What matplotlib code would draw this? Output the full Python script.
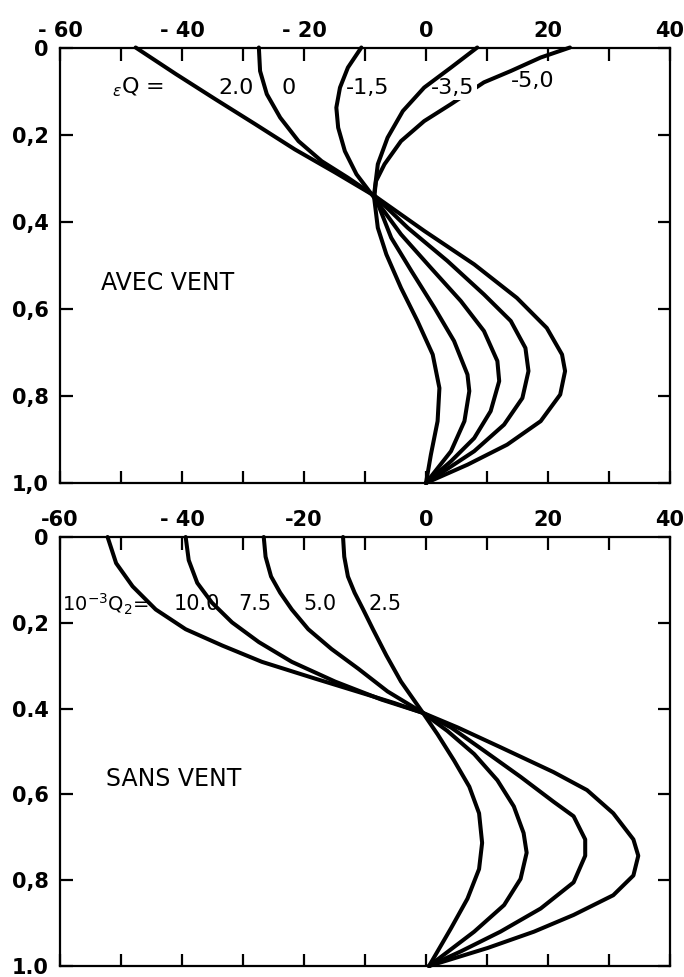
import matplotlib
matplotlib.use("Agg")
import matplotlib.pyplot as plt

# ---------------- data : AVEC VENT (top panel) ----------------
top_labels = ["2.0", "0", "-1,5", "-3,5", "-5,0"]

avec_20_x = [-47.6, -41.0, -34.5, -28.0, -21.5, -14.9, -8.4, -0.3, 7.9, 14.9, 19.8, 22.3, 22.8, 22.0, 18.8, 13.3, 6.8, 0.0]
avec_20_y = [0.0, 0.061, 0.119, 0.176, 0.234, 0.287, 0.341, 0.421, 0.498, 0.575, 0.644, 0.705, 0.743, 0.797, 0.858, 0.912, 0.958, 1.0]

avec_00_x = [-27.4, -27.2, -26.1, -23.9, -20.9, -17.1, -12.8, -8.4, -3.0, 3.5, 9.5, 13.9, 16.3, 16.8, 15.8, 12.8, 7.9, 0.0]
avec_00_y = [0.0, 0.054, 0.107, 0.161, 0.215, 0.261, 0.299, 0.341, 0.414, 0.490, 0.567, 0.628, 0.690, 0.743, 0.805, 0.866, 0.927, 1.0]

avec_m15_x = [-10.6, -12.8, -14.1, -14.7, -14.4, -13.3, -11.4, -8.7, -4.1, 0.8, 5.7, 9.5, 11.7, 12.0, 10.6, 7.9, 4.1, 0.0]
avec_m15_y = [0.0, 0.046, 0.092, 0.138, 0.184, 0.238, 0.291, 0.341, 0.429, 0.506, 0.582, 0.651, 0.720, 0.766, 0.835, 0.897, 0.950, 1.0]

avec_m35_x = [8.4, 4.1, -0.3, -3.8, -6.3, -7.9, -8.5, -5.7, -2.4, 1.4, 4.6, 6.8, 7.1, 6.3, 4.1, 0.0]
avec_m35_y = [0.0, 0.046, 0.092, 0.146, 0.207, 0.268, 0.337, 0.437, 0.513, 0.598, 0.674, 0.751, 0.789, 0.858, 0.927, 1.0]

avec_m50_x = [23.6, 18.8, 13.9, 9.5, 4.1, -0.3, -4.1, -6.8, -8.2, -8.5, -7.9, -6.5, -4.1, -1.4, 1.1, 2.2, 1.9, 0.8, 0.0]
avec_m50_y = [0.0, 0.023, 0.054, 0.080, 0.130, 0.169, 0.215, 0.268, 0.307, 0.345, 0.414, 0.475, 0.552, 0.628, 0.705, 0.782, 0.858, 0.935, 1.0]

# ---------------- data : SANS VENT (bottom panel) ----------------
bottom_labels = ["10.0", "7.5", "5.0", "2.5"]

sans_100_x = [-52.2, -50.8, -48.1, -44.3, -39.4, -33.4, -26.9, -18.2, -9.5, -5.2, -0.5, 5.2, 12.2, 20.9, 26.4, 30.7, 34.0, 34.8, 34.0, 30.7, 24.2, 17.7, 10.1, 0.5]
sans_100_y = [0.0, 0.061, 0.115, 0.169, 0.215, 0.253, 0.291, 0.330, 0.368, 0.387, 0.410, 0.444, 0.490, 0.548, 0.590, 0.644, 0.705, 0.743, 0.789, 0.835, 0.881, 0.920, 0.958, 1.0]

sans_75_x = [-39.4, -38.9, -37.5, -35.1, -31.8, -27.4, -22.0, -14.9, -7.3, -0.5, 4.1, 9.5, 15.5, 20.9, 24.2, 26.1, 26.1, 24.2, 18.8, 12.2, 5.7, 0.5]
sans_75_y = [0.0, 0.054, 0.107, 0.153, 0.199, 0.245, 0.291, 0.337, 0.379, 0.410, 0.444, 0.498, 0.559, 0.617, 0.651, 0.705, 0.743, 0.805, 0.866, 0.920, 0.966, 1.0]

sans_50_x = [-26.6, -26.3, -25.4, -23.9, -22.0, -19.3, -15.5, -11.1, -6.3, -0.5, 3.5, 7.9, 11.7, 14.4, 16.0, 16.5, 15.5, 12.8, 7.9, 0.5]
sans_50_y = [0.0, 0.046, 0.092, 0.130, 0.169, 0.215, 0.261, 0.307, 0.360, 0.410, 0.452, 0.506, 0.567, 0.628, 0.690, 0.736, 0.797, 0.858, 0.920, 1.0]

sans_25_x = [-13.6, -13.4, -12.8, -11.7, -10.3, -8.7, -6.5, -4.1, -0.5, 1.9, 4.6, 7.1, 8.7, 9.2, 8.7, 6.8, 4.1, 0.5]
sans_25_y = [0.0, 0.046, 0.092, 0.130, 0.169, 0.215, 0.276, 0.337, 0.410, 0.460, 0.521, 0.582, 0.644, 0.713, 0.774, 0.843, 0.912, 1.0]

x_ticks = [-60, -50, -40, -30, -20, -10, 0, 10, 20, 30, 40]
top_xlabels = ["- 60", "", "- 40", "", "- 20", "", "0", "", "20", "", "40"]
bot_xlabels = ["-60", "", "- 40", "", "-20", "", "0", "", "20", "", "40"]
y_ticks = [0, 0.2, 0.4, 0.6, 0.8, 1.0]
top_ylabels = ["0", "0,2", "0,4", "0,6", "0,8", "1,0"]
bot_ylabels = ["0", "0,2", "0.4", "0,6", "0,8", "1.0"]

# ---------------- figure ----------------
W, H = 684, 977
fig = plt.figure(figsize=(W / 100, H / 100), dpi=100)
fig.patch.set_facecolor("white")

L = 60 / W
AW = 610 / W
ax1 = fig.add_axes([L, 1 - 483 / H, AW, (483 - 47.5) / H])
ax2 = fig.add_axes([L, 1 - 966 / H, AW, (966 - 537) / H])

LW = 2.9
TICKFS = 15


def style(ax, xlabels, ylabels, xpad):
    ax.set_xlim(-60, 40)
    ax.set_ylim(1.0, 0.0)
    ax.set_xticks(x_ticks)
    ax.set_xticklabels(xlabels, fontsize=TICKFS, fontweight="bold")
    ax.set_yticks(y_ticks)
    ax.set_yticklabels(ylabels, fontsize=TICKFS, fontweight="bold")
    ax.tick_params(axis="x", which="both", direction="in", top=True, bottom=True,
                   labeltop=True, labelbottom=False, length=9, width=1.6, pad=xpad)
    ax.tick_params(axis="y", which="both", direction="in", left=True, right=True,
                   labelleft=True, labelright=False, length=9, width=1.6, pad=8)
    for s in ax.spines.values():
        s.set_linewidth(1.6)


style(ax1, top_xlabels, top_ylabels, 5)
style(ax2, bot_xlabels, bot_ylabels, 5)

kw = dict(color="black", lw=LW, solid_joinstyle="round", solid_capstyle="round", clip_on=False)
top_series = [(avec_20_x, avec_20_y, 2), (avec_00_x, avec_00_y, 2), (avec_m15_x, avec_m15_y, 2),
              (avec_m35_x, avec_m35_y, 4), (avec_m50_x, avec_m50_y, 2)]
for xs, ys, z in top_series:
    ax1.plot(xs, ys, zorder=z, **kw)

for xs, ys in [(sans_100_x, sans_100_y), (sans_75_x, sans_75_y),
               (sans_50_x, sans_50_y), (sans_25_x, sans_25_y)]:
    ax2.plot(xs, ys, zorder=2, **kw)

AFS = 16
# top annotations
ax1.text(-51.4, 0.092, r"$_{\epsilon}$Q =", fontsize=AFS, ha="left", va="center")
top_lab_x = [-31.2, -22.5, -9.6, 4.4, 17.5]
top_lab_y = [0.092, 0.092, 0.092, 0.092, 0.077]
for lab, lx, ly in zip(top_labels, top_lab_x, top_lab_y):
    bbox = dict(facecolor="white", edgecolor="none", pad=1.5) if lab == "-3,5" else None
    ax1.text(lx, ly, lab, fontsize=AFS, ha="center", va="center", bbox=bbox, zorder=3)
ax1.text(-53.3, 0.54, "AVEC VENT", fontsize=17, ha="left", va="center")

# bottom annotations
ax2.text(-59.6, 0.157, r"10$^{-3}$Q$_2$=", fontsize=14, ha="left", va="center", zorder=5)
bot_lab_x = [-37.6, -28.0, -17.4, -6.7]
for lab, lx in zip(bottom_labels, bot_lab_x):
    ax2.text(lx, 0.157, lab, fontsize=15, ha="center", va="center", zorder=5)
ax2.text(-52.4, 0.563, "SANS VENT", fontsize=17, ha="left", va="center")

fig.savefig("out.png", dpi=100, facecolor="white")
